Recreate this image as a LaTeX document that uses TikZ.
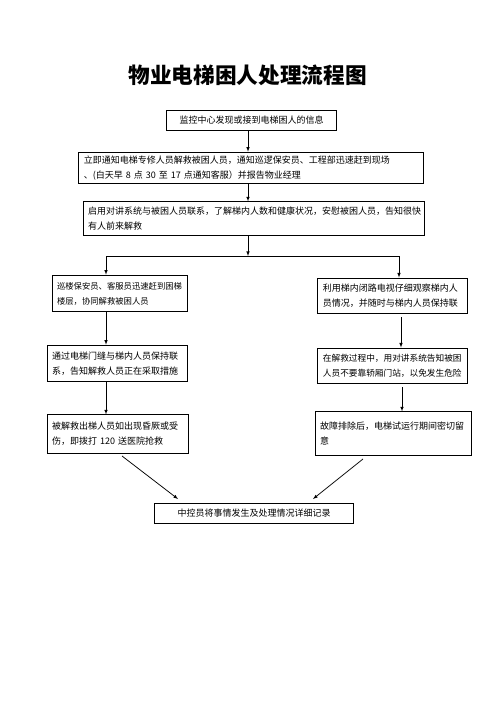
\documentclass[tikz,border=0pt]{standalone}
\usepackage{fontspec}
\usepackage{tikz}
\usetikzlibrary{positioning}
\newfontfamily\cjk{Noto Sans CJK SC}

\begin{document}
\begin{tikzpicture}[x=1.2pt, y=-1.2pt]
        \tikzstyle{box}=[draw, line width=1.1pt, inner xsep=6pt, inner ysep=2pt, align=left, font=\cjk\fontsize{10.8}{18}\selectfont]
        \tikzstyle{arr}=[draw, ->, >=latex, line width=0.9pt]

        \useasboundingbox (0,0) rectangle (496,702);

        \node (title) at (247.5,75) [font=\cjk\fontsize{26}{30}\selectfont\bfseries] {物业电梯困人处理流程图};

        \node (0) at (251.5,120.5) [box, minimum width=205pt, minimum height=23pt, align=center] {监控中心发现或接到电梯困人的信息};
        \node (1) at (251,168)   [box, text width=401pt, minimum height=38pt] {立即通知电梯专修人员解救被困人员，通知巡逻保安员、工程部迅速赶到现场\\、(白天早 8 点 30 至 17 点通知客服）并报告物业经理};
        \node (2) at (254,218.5) [box, text width=398pt, minimum height=40pt] {启用对讲系统与被困人员联系，了解梯内人数和健康状况，安慰被困人员，告知很快\\有人前来解救};
        \node (3) at (119.5,293.5) [box, text width=150pt, minimum height=44pt, font=\cjk\fontsize{10}{18}\selectfont] {巡楼保安员、客服员迅速赶到困梯\\楼层，协同解救被困人员};
        \node (4) at (392.5,295.5) [box, text width=167pt, minimum height=42pt] {利用梯内闭路电视仔细观察梯内人\\员情况，并随时与梯内人员保持联};
        \node (5) at (117.5,363.5) [box, text width=157pt, minimum height=44pt] {通过电梯门缝与梯内人员保持联\\系，告知解救人员正在采取措施};
        \node (6) at (392.5,365.5) [box, text width=167pt, minimum height=42pt, font=\cjk\fontsize{10.4}{18}\selectfont] {在解救过程中，用对讲系统告知被困\\人员不要靠轿厢门站，以免发生危险};
        \node (7) at (118,434)   [box, text width=158pt, minimum height=46pt] {被解救出梯人员如出现昏厥或受\\伤，即拨打 120 送医院抢救};
        \node (8) at (393.5,433.5) [box, text width=176pt, minimum height=52pt] {故障排除后，电梯试运行期间密切留\\意};
        \node (9) at (254,513.5) [box, minimum width=238pt, minimum height=25pt, align=center] {中控员将事情发生及处理情况详细记录};

        % branching
        \coordinate (j)  at (248,256);
        \coordinate (jl) at (106,256);
        \coordinate (jr) at (399,256);
        \coordinate (a1) at (401,317);
        \coordinate (a2) at (402,387);
        \coordinate (d1) at (122,456);
        \coordinate (e1) at (178,499);
        \coordinate (d2) at (363,459);
        \coordinate (e2) at (313,499);

        \draw[arr] (j |- 0.south) -- (j |- 1.north);
        \draw[arr] (j |- 1.south) -- (j |- 2.north);
        \draw[arr] (j |- 2.south) -- (j);
        \draw[line width=0.9pt] (jl) -- (jr);
        \draw[arr] (jl) -- (jl |- 3.north);
        \draw[arr] (jr) -- (jr |- 4.north);
        \draw[arr] (jl |- 3.south) -- (jl |- 5.north);
        \draw[arr] (jl |- 5.south) -- (jl |- 7.north);
        \draw[arr] (a1) -- (a1 |- 6.north);
        \draw[arr] (a2) -- (a2 |- 8.north);
        \draw[arr] (d1) -- (e1);
        \draw[arr] (d2) -- (e2);

    \end{tikzpicture}
\end{document}
